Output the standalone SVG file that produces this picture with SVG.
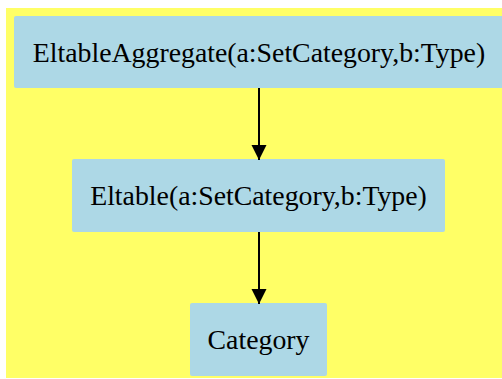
<svg xmlns="http://www.w3.org/2000/svg" width="502" height="379" viewBox="0 0 502 379">
<style>
.node rect{fill:#add8e6;stroke:none}
.node text{font-family:"Liberation Serif","Times New Roman",serif;font-size:27.8px;fill:#000;text-anchor:middle}
.edge line{stroke:#000;stroke-width:2}
</style>
<defs>
<marker id="ah" markerWidth="15" markerHeight="21" refX="15" refY="7.5" orient="auto" markerUnits="userSpaceOnUse" viewBox="0 0 15 21">
<path d="M0,0 L15,7.5 L0,15 z" fill="#000"/>
</marker>
</defs>
<rect x="6" y="8" width="496" height="370" fill="#ffff66"/>
<g id="n1" class="node"><rect x="14" y="16" width="490" height="72" rx="2"/><text x="259" y="62">EltableAggregate(a:SetCategory,b:Type)</text></g>
<g id="n2" class="node"><rect x="72" y="159" width="373" height="73" rx="2"/><text x="258.5" y="205">Eltable(a:SetCategory,b:Type)</text></g>
<g id="n3" class="node"><rect x="190" y="303" width="137" height="73" rx="2"/><text x="258.5" y="349">Category</text></g>
<g id="edges" class="edge">
<line x1="259" y1="88" x2="259" y2="160" marker-end="url(#ah)"/>
<line x1="259" y1="232" x2="259" y2="304" marker-end="url(#ah)"/>
</g>
</svg>
